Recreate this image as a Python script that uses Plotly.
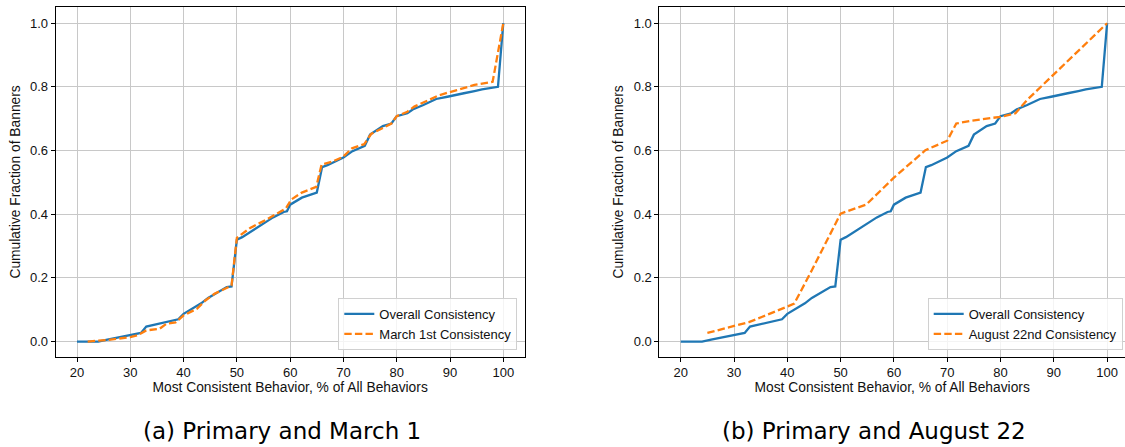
import plotly.graph_objects as go

# ---- data ----
overall_x = [20, 24, 25.7, 28.4, 30, 32, 33, 36, 37.2, 39, 40, 41.3, 43.3, 44.6, 47.3, 48.1, 49, 50, 51,
             53.4, 54.8, 56.8, 58.8, 59.4, 60, 62.2, 65, 66, 67, 70, 71.7, 74, 75, 76, 77.4, 79, 80, 82,
             83, 85, 87.4, 89.5, 90.5, 92.6, 94.6, 96, 99, 100]
overall_y = [0, 0, 0.006, 0.014, 0.02, 0.027, 0.047, 0.058, 0.064, 0.07, 0.087, 0.10, 0.12, 0.137, 0.164,
             0.171, 0.173, 0.32, 0.328, 0.353, 0.37, 0.39, 0.407, 0.409, 0.43, 0.452, 0.468, 0.548, 0.554,
             0.578, 0.598, 0.615, 0.65, 0.661, 0.677, 0.685, 0.708, 0.717, 0.729, 0.743, 0.762, 0.769,
             0.772, 0.78, 0.787, 0.792, 0.8, 1.0]

march_x = [22, 25.8, 30, 31.4, 33, 35.5, 36.8, 38.5, 40, 42.5, 44.1, 45.8, 49, 50, 52.5, 55.2, 59.2, 60.2,
           62.2, 64.9, 65.9, 67.9, 69.9, 71.6, 73.9, 75.2, 77.3, 79, 80, 82, 83.3, 85.3, 88, 91.3, 94.6,
           98, 100]
march_y = [0.0, 0.005, 0.014, 0.02, 0.035, 0.04, 0.056, 0.06, 0.082, 0.103, 0.129, 0.15, 0.176, 0.326,
           0.357, 0.38, 0.418, 0.446, 0.468, 0.486, 0.556, 0.565, 0.58, 0.607, 0.62, 0.652, 0.67, 0.685,
           0.708, 0.722, 0.738, 0.753, 0.774, 0.79, 0.806, 0.816, 1.0]

aug_x = [25, 30, 32.8, 35.2, 40, 41.3, 44.6, 47.3, 50, 54.8, 60, 65.9, 70, 71.7, 74.7, 80, 82.8, 85,
         89.9, 100]
aug_y = [0.027, 0.05, 0.061, 0.077, 0.111, 0.119, 0.224, 0.313, 0.402, 0.43, 0.515, 0.601, 0.631, 0.685,
         0.694, 0.706, 0.717, 0.759, 0.837, 1.0]

x_ticks = [20, 30, 40, 50, 60, 70, 80, 90, 100]
y_ticks = [0.0, 0.2, 0.4, 0.6, 0.8, 1.0]
y_tick_text = ["0.0", "0.2", "0.4", "0.6", "0.8", "1.0"]

x_title = "Most Consistent Behavior, % of All Behaviors"
y_title = "Cumulative Fraction of Banners"
caption_a = "(a) Primary and March 1"
caption_b = "(b) Primary and August 22"

BLUE = "#1f77b4"
ORANGE = "#ff7f0e"
W, H = 1125, 447
FONT = "Liberation Sans, Arial, Helvetica, sans-serif"
CAP_FONT = "DejaVu Sans, sans-serif"
TXT = "#111"

fig = go.Figure()
fig.add_trace(go.Scatter(x=overall_x, y=overall_y, mode="lines", name="Overall Consistency",
                         line=dict(color=BLUE, width=2.3), xaxis="x", yaxis="y", legend="legend"))
fig.add_trace(go.Scatter(x=march_x, y=march_y, mode="lines", name="March 1st Consistency",
                         line=dict(color=ORANGE, width=2.3, dash="7.4px,3.2px"), xaxis="x", yaxis="y",
                         legend="legend"))
fig.add_trace(go.Scatter(x=overall_x, y=overall_y, mode="lines", name="Overall Consistency",
                         line=dict(color=BLUE, width=2.3), xaxis="x2", yaxis="y2", legend="legend2"))
fig.add_trace(go.Scatter(x=aug_x, y=aug_y, mode="lines", name="August 22nd Consistency",
                         line=dict(color=ORANGE, width=2.3, dash="7.4px,3.2px"), xaxis="x2", yaxis="y2",
                         legend="legend2"))

ydom = [(H - 356.5) / H, (H - 7.3) / H]
px_per_unit = 5.33
left_x0 = 55.7
right_x0 = 659.4
right_range_max = 16 + (W - right_x0) / px_per_unit

common_x = dict(tickmode="array", tickvals=x_ticks, ticks="outside", ticklen=4, tickwidth=1,
                tickcolor="black", showline=True, linecolor="black", linewidth=1, showgrid=True,
                gridcolor="#c8c8c8", gridwidth=1, zeroline=False,
                tickfont=dict(family=FONT, size=13, color=TXT),
                title=dict(text=x_title, font=dict(family=FONT, size=13.8, color=TXT), standoff=3))
common_y = dict(tickmode="array", tickvals=y_ticks, ticktext=y_tick_text, ticks="outside", ticklen=4,
                tickwidth=1, tickcolor="black", showline=True, linecolor="black", linewidth=1,
                showgrid=True, gridcolor="#c8c8c8", gridwidth=1, zeroline=False, range=[-0.047, 1.05],
                tickfont=dict(family=FONT, size=13, color=TXT),
                title=dict(text=y_title, font=dict(family=FONT, size=13.8, color=TXT), standoff=6))

legend_common = dict(y=(H - 350) / H, xanchor="right", yanchor="bottom",
                     bgcolor="rgba(255,255,255,0.8)", bordercolor="#d0d0d0", borderwidth=1,
                     font=dict(family=FONT, size=13, color=TXT), tracegroupgap=0)

fig.update_layout(
    width=W, height=H, margin=dict(l=0, r=0, t=0, b=0),
    paper_bgcolor="white", plot_bgcolor="white",
    xaxis=dict(common_x, domain=[left_x0 / W, 524.6 / W], range=[16, 104], anchor="y", mirror=True),
    yaxis=dict(common_y, domain=ydom, anchor="x", mirror=True),
    xaxis2=dict(common_x, domain=[right_x0 / W, 1.0], range=[16, right_range_max], anchor="y2",
                mirror=True),
    yaxis2=dict(common_y, domain=ydom, anchor="x2", mirror=False),
    legend=dict(legend_common, x=517.3 / W),
    legend2=dict(legend_common, x=1122.7 / W),
    annotations=[
        dict(text=caption_a, x=281.5 / W, y=(H - 431) / H, xref="paper", yref="paper",
             showarrow=False, xanchor="center", yanchor="middle",
             font=dict(family=CAP_FONT, size=23, color="black")),
        dict(text=caption_b, x=874 / W, y=(H - 431) / H, xref="paper", yref="paper",
             showarrow=False, xanchor="center", yanchor="middle",
             font=dict(family=CAP_FONT, size=23, color="black")),
    ],
)

fig.write_html("out.html")
